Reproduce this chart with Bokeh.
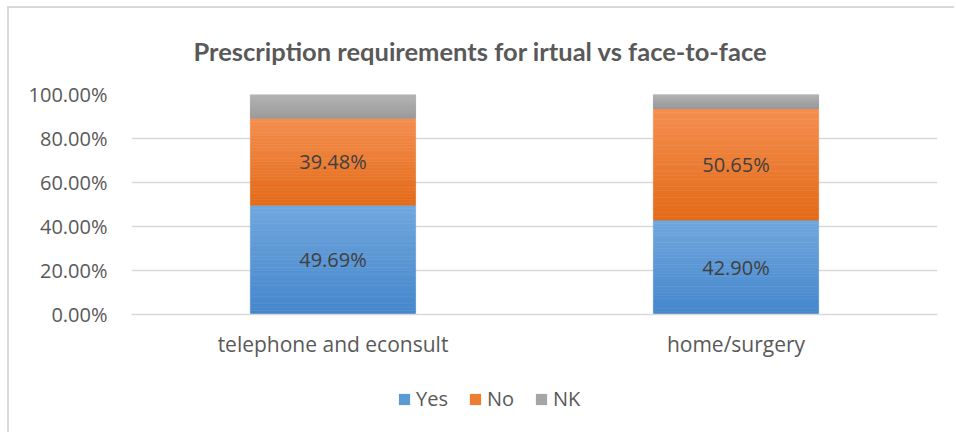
from bokeh.plotting import figure
from bokeh.layouts import column
from bokeh.models import (FactorRange, Range1d, FixedTicker, PrintfTickFormatter,
                          Legend, LegendItem, ColumnDataSource, LabelSet, Title)
from bokeh.core.properties import value
from bokeh.embed import file_html
from bokeh.resources import INLINE

# ---- data ----
categories = ["telephone and econsult", "home/surgery"]
series_names = ["Yes", "No", "NK"]
yes = [49.69, 42.90]
no = [39.48, 50.65]
nk = [10.83, 6.45]
y_ticks = [0, 20, 40, 60, 80, 100]
title_text = "Prescription requirements for irtual vs face-to-face"

# ---- style ----
grad = {  # (bottom colour, top colour, legend colour)
    "Yes": ("#4586cc", "#70a7dd", "#5b9bd5"),
    "No": ("#e36a18", "#f48f50", "#ed7d31"),
    "NK": ("#989898", "#b2b2b2", "#a5a5a5"),
}
TEXT = "#595959"
FONT = "Open Sans"
N = 30
BAR_W = 0.41
W = 945


def hx(c):
    return tuple(int(c[i:i + 2], 16) for i in (1, 3, 5))


def mix(c1, c2, t):
    a, b = hx(c1), hx(c2)
    return "#%02x%02x%02x" % tuple(round(a[i] + (b[i] - a[i]) * t) for i in range(3))


p = figure(width=W, height=372, x_range=FactorRange(*categories, range_padding=0),
           y_range=Range1d(0, 100), output_backend="svg", toolbar_location=None,
           min_border_left=122, min_border_right=17, min_border_top=86, min_border_bottom=66)
p.outline_line_color = None
p.background_fill_color = "white"
p.border_fill_color = "white"

p.title = Title(text=title_text, align="left", vertical_align="top", text_font="Lato",
                text_font_size="25.5px", text_font_style="bold", text_color=TEXT,
                standoff=54, offset=62)

values = {"Yes": yes, "No": no, "NK": nk}
base = [0.0] * len(categories)
label_x, label_y, label_t = [], [], []
for name in series_names:
    vals = values[name]
    c_bot, c_top, _ = grad[name]
    xs, bots, tops, cols = [], [], [], []
    for ci, cat in enumerate(categories):
        b, v = base[ci], vals[ci]
        for k in range(N):
            xs.append(cat)
            bots.append(b + v * k / N)
            tops.append(b + v * (k + 1) / N)
            cols.append(mix(c_bot, c_top, (k + 0.5) / N))
        if name != "NK":
            label_x.append(cat)
            label_y.append(b + v / 2)
            label_t.append(f"{v:.2f}%")
    src = ColumnDataSource(dict(x=xs, bottom=bots, top=tops, color=cols))
    p.vbar(x="x", bottom="bottom", top="top", width=BAR_W, source=src,
           fill_color="color", line_color="color", line_width=0.6)
    base = [base[i] + vals[i] for i in range(len(categories))]

lab_src = ColumnDataSource(dict(x=label_x, y=label_y, t=label_t))
p.add_layout(LabelSet(x="x", y="y", text="t", source=lab_src, text_align="center",
                      text_baseline="middle", text_font=value(FONT), text_font_size="20px",
                      text_color="#404040"))

# axes
p.yaxis.ticker = FixedTicker(ticks=y_ticks)
p.yaxis.formatter = PrintfTickFormatter(format="%.2f%%")
p.yaxis.axis_line_color = None
p.yaxis.major_tick_line_color = None
p.yaxis.minor_tick_line_color = None
p.yaxis.major_label_standoff = 18
p.yaxis.major_label_text_font = FONT
p.yaxis.major_label_text_font_size = "20px"
p.yaxis.major_label_text_color = TEXT

p.xaxis.axis_line_color = "#d9d9d9"
p.xaxis.axis_line_width = 1.5
p.xaxis.major_tick_line_color = None
p.xaxis.minor_tick_line_color = None
p.xaxis.major_label_standoff = 9
p.xaxis.major_label_text_font = FONT
p.xaxis.major_label_text_font_size = "21px"
p.xaxis.major_label_text_color = TEXT

p.xgrid.grid_line_color = None
p.ygrid.grid_line_color = "#d9d9d9"
p.ygrid.grid_line_width = 1.5

# ---- legend strip ----
lg = figure(width=W, height=52, x_range=(0, 1), y_range=(0, 1), output_backend="svg",
            toolbar_location=None, min_border=0, x_axis_location=None, y_axis_location=None)
lg.grid.grid_line_color = None
lg.outline_line_color = None
lg.border_fill_color = "white"
items = []
for name in series_names:
    r = lg.vbar(x=[0.5], bottom=[0], top=[0], width=0.0, fill_color=grad[name][2],
                line_alpha=0)
    items.append(LegendItem(label=name, renderers=[r]))
legend = Legend(items=items, orientation="horizontal", location=(266, 20),
                border_line_alpha=0, background_fill_alpha=0, glyph_width=14, glyph_height=14,
                label_text_font=FONT, label_text_font_size="20px", label_text_color=TEXT,
                label_standoff=5, spacing=20, padding=0, margin=0)
lg.add_layout(legend)

layout = column(p, lg, spacing=0,
                styles={"margin-left": "7px", "margin-top": "6px",
                        "border-left": "2px solid #d9d9d9", "border-top": "2px solid #d9d9d9"})

open("out.html", "w").write(file_html(layout, INLINE))
